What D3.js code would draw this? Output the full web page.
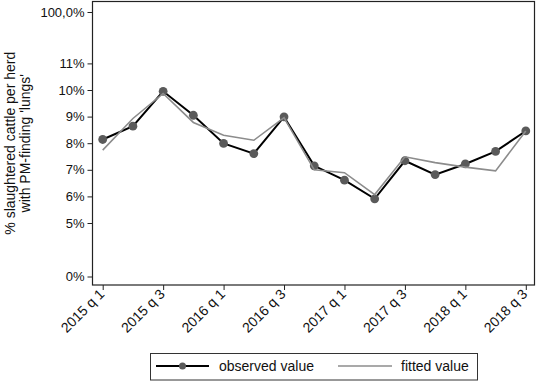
<!DOCTYPE html>
<html>
<head>
<meta charset="utf-8">
<script src="https://cdn.jsdelivr.net/npm/d3@7"></script>
<style>
  body { margin: 0; background: #fff; }
  text { font-family: "Liberation Sans", Arial, sans-serif; }
</style>
</head>
<body>
<div id="chart"></div>
<script>
const W = 536, H = 381;

// quarters on x axis
const quarters = ["2015 q 1", "2015 q 2", "2015 q 3", "2015 q 4",
    "2016 q 1", "2016 q 2", "2016 q 3", "2016 q 4",
    "2017 q 1", "2017 q 2", "2017 q 3", "2017 q 4",
    "2018 q 1", "2018 q 2", "2018 q 3"];
const xTickLabels = ["2015 q 1", "2015 q 3", "2016 q 1", "2016 q 3", "2017 q 1", "2017 q 3", "2018 q 1", "2018 q 3"];

// percentages
const observed = [8.14, 8.64, 9.95, 9.05, 7.99, 7.61, 8.99, 7.15, 6.61, 5.91, 7.34, 6.82, 7.22, 7.69, 8.46];
const fitted = [7.74, 8.93, 9.87, 8.78, 8.30, 8.11, 8.96, 7.00, 6.89, 6.07, 7.49, 7.27, 7.10, 6.96, 8.46];

const yTicks = [0, 5, 6, 7, 8, 9, 10, 11, 100];
const yTickLabels = ["0%", "5%", "6%", "7%", "8%", "9%", "10%", "11%", "100,0%"];

const frame = { left: 92.5, right: 534.5, top: 1.5, bottom: 285 };

const svg = d3.select("#chart").append("svg")
    .attr("width", W)
    .attr("height", H);

const x = d3.scalePoint()
    .domain(quarters)
    .range([102.7, 525.8]);

// the y axis of the original is stretched between 5% and 11%
const y = d3.scaleLinear()
    .domain(yTicks)
    .range([276.5, 223, 196.4, 169.8, 143.2, 116.6, 90, 63.4, 12]);

// frame
svg.append("rect")
    .attr("x", frame.left)
    .attr("y", frame.top)
    .attr("width", frame.right - frame.left)
    .attr("height", frame.bottom - frame.top)
    .attr("fill", "none")
    .attr("stroke", "#222")
    .attr("stroke-width", 1.2);

// y axis
const yAxis = svg.append("g")
    .attr("transform", `translate(${frame.left},0)`)
    .call(d3.axisLeft(y)
        .tickValues(yTicks)
        .tickFormat((d, i) => yTickLabels[i])
        .tickSize(5)
        .tickPadding(3));
yAxis.select(".domain").remove();
yAxis.selectAll("line").attr("stroke", "#222");
yAxis.selectAll("text")
    .style("font-size", "13px")
    .attr("fill", "#111");

// x axis
const xAxis = svg.append("g")
    .attr("transform", `translate(0,${frame.bottom})`)
    .call(d3.axisBottom(x)
        .tickValues(xTickLabels)
        .tickSize(5)
        .tickPadding(3));
xAxis.select(".domain").remove();
xAxis.selectAll("line").attr("stroke", "#222");
xAxis.selectAll("text")
    .style("font-size", "14px")
    .attr("fill", "#111")
    .attr("text-anchor", "end")
    .attr("y", 0)
    .attr("dy", 0)
    .attr("transform", "translate(2,10) rotate(-45)");

// y axis title
const yTitle = svg.append("text")
    .attr("transform", `translate(0,${(frame.top + frame.bottom) / 2}) rotate(-90)`)
    .attr("text-anchor", "middle")
    .style("font-size", "14px")
    .attr("fill", "#111");
yTitle.append("tspan").attr("x", 0).attr("y", 15).text("% slaughtered cattle per herd");
yTitle.append("tspan").attr("x", 0).attr("y", 30).text("with PM-finding 'lungs'");

const line = d3.line()
    .x((d, i) => x(quarters[i]))
    .y(d => y(d));

// observed series
svg.append("path")
    .datum(observed)
    .attr("fill", "none")
    .attr("stroke", "#000")
    .attr("stroke-width", 2)
    .attr("d", line);

svg.selectAll(".obs")
    .data(observed)
    .join("circle")
    .attr("class", "obs")
    .attr("cx", (d, i) => x(quarters[i]))
    .attr("cy", d => y(d))
    .attr("r", 4.4)
    .attr("fill", "#5a5a5a");

// fitted series
svg.append("path")
    .datum(fitted)
    .attr("fill", "none")
    .attr("stroke", "#8c8c8c")
    .attr("stroke-width", 1.6)
    .attr("d", line);

// legend
const legend = svg.append("g");
legend.append("rect")
    .attr("x", 150.5)
    .attr("y", 353.5)
    .attr("width", 327)
    .attr("height", 26.5)
    .attr("fill", "#fff")
    .attr("stroke", "#333")
    .attr("stroke-width", 1);

legend.append("line")
    .attr("x1", 156).attr("x2", 209)
    .attr("y1", 366).attr("y2", 366)
    .attr("stroke", "#000").attr("stroke-width", 2);
legend.append("circle")
    .attr("cx", 182.5).attr("cy", 366).attr("r", 3.5)
    .attr("fill", "#5a5a5a");
legend.append("text")
    .attr("x", 219).attr("y", 371)
    .style("font-size", "14px")
    .attr("fill", "#111")
    .text("observed value");

legend.append("line")
    .attr("x1", 338).attr("x2", 392)
    .attr("y1", 366).attr("y2", 366)
    .attr("stroke", "#8c8c8c").attr("stroke-width", 1.6);
legend.append("text")
    .attr("x", 401).attr("y", 371)
    .style("font-size", "14px")
    .attr("fill", "#111")
    .text("fitted value");
</script>
</body>
</html>
